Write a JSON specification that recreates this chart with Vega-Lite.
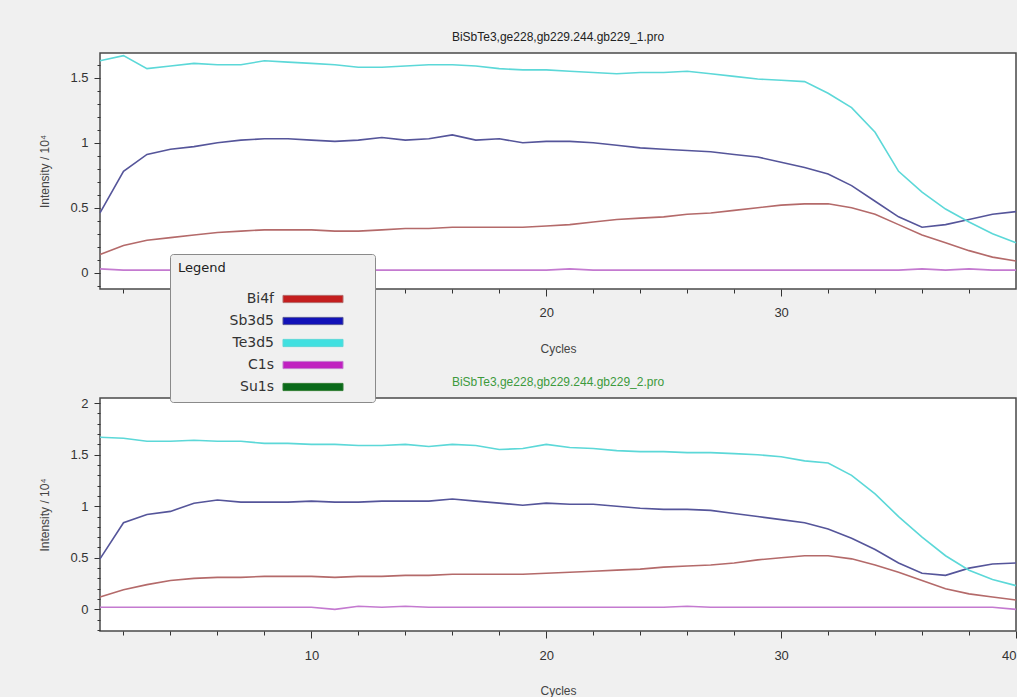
{
  "$schema": "https://vega.github.io/schema/vega-lite/v6.json",
  "background": "#f0f0f0",
  "padding": {"left": 38, "top": 30, "right": 0, "bottom": 0},
  "config": {
    "view": {"fill": "white", "stroke": "#4a4a4a", "strokeWidth": 1.5},
    "axis": {"labelFont": "Liberation Sans", "labelFontSize": 13, "labelColor": "#333", "titleFont": "Liberation Sans", "titleFontSize": 12, "titleFontWeight": "normal", "titleColor": "#444", "tickColor": "#333", "grid": false, "domain": false}
  },
  "datasets": {
    "d": [
      {"p":1,"c":1,"Bi4f":0.14,"Sb3d5":0.46,"Te3d5":1.63,"C1s":0.03},
      {"p":1,"c":2,"Bi4f":0.21,"Sb3d5":0.78,"Te3d5":1.67,"C1s":0.02},
      {"p":1,"c":3,"Bi4f":0.25,"Sb3d5":0.91,"Te3d5":1.57,"C1s":0.02},
      {"p":1,"c":4,"Bi4f":0.27,"Sb3d5":0.95,"Te3d5":1.59,"C1s":0.02},
      {"p":1,"c":5,"Bi4f":0.29,"Sb3d5":0.97,"Te3d5":1.61,"C1s":0.01},
      {"p":1,"c":6,"Bi4f":0.31,"Sb3d5":1.00,"Te3d5":1.60,"C1s":0.02},
      {"p":1,"c":7,"Bi4f":0.32,"Sb3d5":1.02,"Te3d5":1.60,"C1s":0.02},
      {"p":1,"c":8,"Bi4f":0.33,"Sb3d5":1.03,"Te3d5":1.63,"C1s":0.02},
      {"p":1,"c":9,"Bi4f":0.33,"Sb3d5":1.03,"Te3d5":1.62,"C1s":0.02},
      {"p":1,"c":10,"Bi4f":0.33,"Sb3d5":1.02,"Te3d5":1.61,"C1s":0.02},
      {"p":1,"c":11,"Bi4f":0.32,"Sb3d5":1.01,"Te3d5":1.60,"C1s":0.02},
      {"p":1,"c":12,"Bi4f":0.32,"Sb3d5":1.02,"Te3d5":1.58,"C1s":0.02},
      {"p":1,"c":13,"Bi4f":0.33,"Sb3d5":1.04,"Te3d5":1.58,"C1s":0.02},
      {"p":1,"c":14,"Bi4f":0.34,"Sb3d5":1.02,"Te3d5":1.59,"C1s":0.02},
      {"p":1,"c":15,"Bi4f":0.34,"Sb3d5":1.03,"Te3d5":1.60,"C1s":0.02},
      {"p":1,"c":16,"Bi4f":0.35,"Sb3d5":1.06,"Te3d5":1.60,"C1s":0.02},
      {"p":1,"c":17,"Bi4f":0.35,"Sb3d5":1.02,"Te3d5":1.59,"C1s":0.02},
      {"p":1,"c":18,"Bi4f":0.35,"Sb3d5":1.03,"Te3d5":1.57,"C1s":0.02},
      {"p":1,"c":19,"Bi4f":0.35,"Sb3d5":1.00,"Te3d5":1.56,"C1s":0.02},
      {"p":1,"c":20,"Bi4f":0.36,"Sb3d5":1.01,"Te3d5":1.56,"C1s":0.02},
      {"p":1,"c":21,"Bi4f":0.37,"Sb3d5":1.01,"Te3d5":1.55,"C1s":0.03},
      {"p":1,"c":22,"Bi4f":0.39,"Sb3d5":1.00,"Te3d5":1.54,"C1s":0.02},
      {"p":1,"c":23,"Bi4f":0.41,"Sb3d5":0.98,"Te3d5":1.53,"C1s":0.02},
      {"p":1,"c":24,"Bi4f":0.42,"Sb3d5":0.96,"Te3d5":1.54,"C1s":0.02},
      {"p":1,"c":25,"Bi4f":0.43,"Sb3d5":0.95,"Te3d5":1.54,"C1s":0.02},
      {"p":1,"c":26,"Bi4f":0.45,"Sb3d5":0.94,"Te3d5":1.55,"C1s":0.02},
      {"p":1,"c":27,"Bi4f":0.46,"Sb3d5":0.93,"Te3d5":1.53,"C1s":0.02},
      {"p":1,"c":28,"Bi4f":0.48,"Sb3d5":0.91,"Te3d5":1.51,"C1s":0.02},
      {"p":1,"c":29,"Bi4f":0.50,"Sb3d5":0.89,"Te3d5":1.49,"C1s":0.02},
      {"p":1,"c":30,"Bi4f":0.52,"Sb3d5":0.85,"Te3d5":1.48,"C1s":0.02},
      {"p":1,"c":31,"Bi4f":0.53,"Sb3d5":0.81,"Te3d5":1.47,"C1s":0.02},
      {"p":1,"c":32,"Bi4f":0.53,"Sb3d5":0.76,"Te3d5":1.38,"C1s":0.02},
      {"p":1,"c":33,"Bi4f":0.50,"Sb3d5":0.67,"Te3d5":1.27,"C1s":0.02},
      {"p":1,"c":34,"Bi4f":0.45,"Sb3d5":0.55,"Te3d5":1.08,"C1s":0.02},
      {"p":1,"c":35,"Bi4f":0.37,"Sb3d5":0.43,"Te3d5":0.78,"C1s":0.02},
      {"p":1,"c":36,"Bi4f":0.29,"Sb3d5":0.35,"Te3d5":0.62,"C1s":0.03},
      {"p":1,"c":37,"Bi4f":0.23,"Sb3d5":0.37,"Te3d5":0.49,"C1s":0.02},
      {"p":1,"c":38,"Bi4f":0.17,"Sb3d5":0.41,"Te3d5":0.39,"C1s":0.03},
      {"p":1,"c":39,"Bi4f":0.12,"Sb3d5":0.45,"Te3d5":0.30,"C1s":0.02},
      {"p":1,"c":40,"Bi4f":0.09,"Sb3d5":0.47,"Te3d5":0.23,"C1s":0.02},
      {"p":2,"c":1,"Bi4f":0.12,"Sb3d5":0.49,"Te3d5":1.67,"C1s":0.02},
      {"p":2,"c":2,"Bi4f":0.19,"Sb3d5":0.84,"Te3d5":1.66,"C1s":0.02},
      {"p":2,"c":3,"Bi4f":0.24,"Sb3d5":0.92,"Te3d5":1.63,"C1s":0.02},
      {"p":2,"c":4,"Bi4f":0.28,"Sb3d5":0.95,"Te3d5":1.63,"C1s":0.02},
      {"p":2,"c":5,"Bi4f":0.30,"Sb3d5":1.03,"Te3d5":1.64,"C1s":0.02},
      {"p":2,"c":6,"Bi4f":0.31,"Sb3d5":1.06,"Te3d5":1.63,"C1s":0.02},
      {"p":2,"c":7,"Bi4f":0.31,"Sb3d5":1.04,"Te3d5":1.63,"C1s":0.02},
      {"p":2,"c":8,"Bi4f":0.32,"Sb3d5":1.04,"Te3d5":1.61,"C1s":0.02},
      {"p":2,"c":9,"Bi4f":0.32,"Sb3d5":1.04,"Te3d5":1.61,"C1s":0.02},
      {"p":2,"c":10,"Bi4f":0.32,"Sb3d5":1.05,"Te3d5":1.60,"C1s":0.02},
      {"p":2,"c":11,"Bi4f":0.31,"Sb3d5":1.04,"Te3d5":1.60,"C1s":0.00},
      {"p":2,"c":12,"Bi4f":0.32,"Sb3d5":1.04,"Te3d5":1.59,"C1s":0.03},
      {"p":2,"c":13,"Bi4f":0.32,"Sb3d5":1.05,"Te3d5":1.59,"C1s":0.02},
      {"p":2,"c":14,"Bi4f":0.33,"Sb3d5":1.05,"Te3d5":1.60,"C1s":0.03},
      {"p":2,"c":15,"Bi4f":0.33,"Sb3d5":1.05,"Te3d5":1.58,"C1s":0.02},
      {"p":2,"c":16,"Bi4f":0.34,"Sb3d5":1.07,"Te3d5":1.60,"C1s":0.02},
      {"p":2,"c":17,"Bi4f":0.34,"Sb3d5":1.05,"Te3d5":1.59,"C1s":0.02},
      {"p":2,"c":18,"Bi4f":0.34,"Sb3d5":1.03,"Te3d5":1.55,"C1s":0.02},
      {"p":2,"c":19,"Bi4f":0.34,"Sb3d5":1.01,"Te3d5":1.56,"C1s":0.02},
      {"p":2,"c":20,"Bi4f":0.35,"Sb3d5":1.03,"Te3d5":1.60,"C1s":0.02},
      {"p":2,"c":21,"Bi4f":0.36,"Sb3d5":1.02,"Te3d5":1.57,"C1s":0.02},
      {"p":2,"c":22,"Bi4f":0.37,"Sb3d5":1.02,"Te3d5":1.56,"C1s":0.02},
      {"p":2,"c":23,"Bi4f":0.38,"Sb3d5":1.00,"Te3d5":1.54,"C1s":0.02},
      {"p":2,"c":24,"Bi4f":0.39,"Sb3d5":0.98,"Te3d5":1.53,"C1s":0.02},
      {"p":2,"c":25,"Bi4f":0.41,"Sb3d5":0.97,"Te3d5":1.53,"C1s":0.02},
      {"p":2,"c":26,"Bi4f":0.42,"Sb3d5":0.97,"Te3d5":1.52,"C1s":0.03},
      {"p":2,"c":27,"Bi4f":0.43,"Sb3d5":0.96,"Te3d5":1.52,"C1s":0.02},
      {"p":2,"c":28,"Bi4f":0.45,"Sb3d5":0.93,"Te3d5":1.51,"C1s":0.02},
      {"p":2,"c":29,"Bi4f":0.48,"Sb3d5":0.90,"Te3d5":1.50,"C1s":0.02},
      {"p":2,"c":30,"Bi4f":0.50,"Sb3d5":0.87,"Te3d5":1.48,"C1s":0.02},
      {"p":2,"c":31,"Bi4f":0.52,"Sb3d5":0.84,"Te3d5":1.44,"C1s":0.02},
      {"p":2,"c":32,"Bi4f":0.52,"Sb3d5":0.78,"Te3d5":1.42,"C1s":0.02},
      {"p":2,"c":33,"Bi4f":0.49,"Sb3d5":0.69,"Te3d5":1.30,"C1s":0.02},
      {"p":2,"c":34,"Bi4f":0.43,"Sb3d5":0.58,"Te3d5":1.12,"C1s":0.02},
      {"p":2,"c":35,"Bi4f":0.36,"Sb3d5":0.45,"Te3d5":0.90,"C1s":0.02},
      {"p":2,"c":36,"Bi4f":0.28,"Sb3d5":0.35,"Te3d5":0.70,"C1s":0.02},
      {"p":2,"c":37,"Bi4f":0.20,"Sb3d5":0.33,"Te3d5":0.52,"C1s":0.02},
      {"p":2,"c":38,"Bi4f":0.15,"Sb3d5":0.40,"Te3d5":0.38,"C1s":0.02},
      {"p":2,"c":39,"Bi4f":0.12,"Sb3d5":0.44,"Te3d5":0.29,"C1s":0.02},
      {"p":2,"c":40,"Bi4f":0.09,"Sb3d5":0.45,"Te3d5":0.23,"C1s":0.00}
    ]
  },
  "vconcat": [
    {
      "title": {"text": "BiSbTe3,ge228,gb229.244.gb229_1.pro", "font": "Liberation Sans", "fontSize": 12, "fontWeight": "normal", "color": "#222", "offset": 8},
      "width": 916,
      "height": 236,
      "data": {"name": "d"},
      "transform": [{"filter": "datum.p === 1"}, {"fold": ["Bi4f", "Sb3d5", "Te3d5", "C1s"], "as": ["el", "v"]}],
      "resolve": {"axis": {"x": "independent", "y": "independent"}},
      "layer": [
        {
          "mark": {"type": "line", "strokeWidth": 1.6},
          "encoding": {
            "x": {"field": "c", "type": "quantitative", "scale": {"domain": [1, 40], "nice": false, "zero": false},
                  "axis": {"orient": "bottom", "values": [10, 20, 30], "format": "d", "tickSize": 7, "labelPadding": 10, "title": "Cycles", "titlePadding": 24}},
            "y": {"field": "v", "type": "quantitative", "scale": {"domain": [-0.125, 1.69], "nice": false, "zero": false},
                  "axis": {"orient": "left", "values": [0, 0.5, 1, 1.5], "format": "~g", "tickSize": 6, "labelPadding": 6, "title": "Intensity / 10⁴", "titlePadding": 18}},
            "color": {"field": "el", "type": "nominal",
                      "scale": {"domain": ["Bi4f", "Sb3d5", "Te3d5", "C1s", "Su1s"], "range": ["#b46a6a", "#55559a", "#5cd8d8", "#c47ad0", "#2e7d32"]},
                      "legend": {"orient": "none", "legendX": 70, "legendY": 201, "title": "Legend", "titleFont": "DejaVu Sans", "titleFontSize": 13, "titleFontWeight": "normal", "titleColor": "#222", "titlePadding": 17,
                                 "fillColor": "#f0f0f0", "strokeColor": "#8a8a8a", "padding": 8, "cornerRadius": 3,
                                 "labelFont": "DejaVu Sans", "labelFontSize": 14, "labelColor": "#333", "labelAlign": "right", "labelOffset": -46,
                                 "symbolType": "M-7.5,-0.9H7.5V0.9H-7.5Z M13,0", "symbolSize": 64, "symbolOffset": 128, "symbolStrokeWidth": 1, "rowPadding": 8,
                                 "encode": {"symbols": {"update": {"fill": {"signal": "datum.value==='Bi4f'?'#c41e1e':datum.value==='Sb3d5'?'#1212b8':datum.value==='Te3d5'?'#40e0e0':datum.value==='C1s'?'#c020c0':'#0a6a1a'"}, "stroke": {"value": "#333"}, "strokeWidth": {"value": 1}, "opacity": {"value": 1}}}}}}
          }
        },
        {
          "mark": {"type": "line", "opacity": 0},
          "encoding": {
            "x": {"field": "c", "type": "quantitative", "axis": {"orient": "bottom", "values": [2,4,6,8,12,14,16,18,22,24,26,28,32,34,36,38], "tickSize": 4, "labels": false, "title": null}},
            "y": {"field": "v", "type": "quantitative", "axis": {"orient": "left", "values": [-0.1,0.1,0.2,0.3,0.4,0.6,0.7,0.8,0.9,1.1,1.2,1.3,1.4,1.6], "tickSize": 3, "labels": false, "title": null}}
          }
        }
      ]
    },
    {
      "title": {"text": "BiSbTe3,ge228,gb229.244.gb229_2.pro", "font": "Liberation Sans", "fontSize": 12, "fontWeight": "normal", "color": "#3c9a3c", "offset": 8},
      "width": 916,
      "height": 233,
      "data": {"name": "d"},
      "transform": [{"filter": "datum.p === 2"}, {"fold": ["Bi4f", "Sb3d5", "Te3d5", "C1s"], "as": ["el", "v"]}],
      "resolve": {"axis": {"x": "independent", "y": "independent"}},
      "layer": [
        {
          "mark": {"type": "line", "strokeWidth": 1.6},
          "encoding": {
            "x": {"field": "c", "type": "quantitative", "scale": {"domain": [1, 40], "nice": false, "zero": false},
                  "axis": {"orient": "bottom", "values": [10, 20, 30, 40], "format": "d", "labelFlush": true, "tickSize": 7, "labelPadding": 11, "title": "Cycles", "titlePadding": 23}},
            "y": {"field": "v", "type": "quantitative", "scale": {"domain": [-0.21, 2.05], "nice": false, "zero": false},
                  "axis": {"orient": "left", "values": [0, 0.5, 1, 1.5, 2], "format": "~g", "tickSize": 6, "labelPadding": 6, "title": "Intensity / 10⁴", "titlePadding": 18}},
            "color": {"field": "el", "type": "nominal", "legend": null}
          }
        },
        {
          "mark": {"type": "line", "opacity": 0},
          "encoding": {
            "x": {"field": "c", "type": "quantitative", "axis": {"orient": "bottom", "values": [2,4,6,8,12,14,16,18,22,24,26,28,32,34,36,38], "tickSize": 4, "labels": false, "title": null}},
            "y": {"field": "v", "type": "quantitative", "axis": {"orient": "left", "values": [-0.2,-0.1,0.1,0.2,0.3,0.4,0.6,0.7,0.8,0.9,1.1,1.2,1.3,1.4,1.6,1.7,1.8,1.9], "tickSize": 3, "labels": false, "title": null}}
          }
        }
      ]
    }
  ],
  "spacing": 20
}
